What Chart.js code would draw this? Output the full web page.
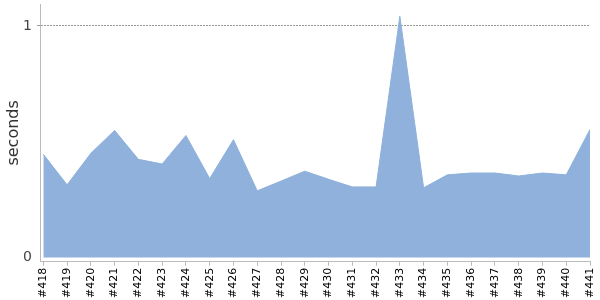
<!DOCTYPE html>
<html>
<head>
<meta charset="utf-8">
<script src="https://cdn.jsdelivr.net/npm/chart.js@4"></script>
<style>
html,body{margin:0;padding:0;background:#fff;}
#wrap{width:600px;height:300px;position:relative;}
</style>
</head>
<body>
<div id="wrap"><canvas id="c"></canvas></div>
<script>
const builds = ["#418","#419","#420","#421","#422","#423","#424","#425","#426","#427","#428","#429","#430","#431","#432","#433","#434","#435","#436","#437","#438","#439","#440","#441"];
const durations = [0.446,0.314,0.450,0.549,0.424,0.404,0.527,0.341,0.509,0.288,0.330,0.373,0.338,0.305,0.305,1.042,0.301,0.357,0.365,0.365,0.352,0.365,0.357,0.553];
const yTicks = [0, 1];
const yTitle = "seconds";

const points = durations.map((v, i) => ({ x: i, y: v }));

new Chart(document.getElementById('c'), {
  type: 'line',
  data: {
    datasets: [{
      data: points,
      fill: 'origin',
      backgroundColor: '#8fb1db',
      borderColor: '#8fb1db',
      borderWidth: 1,
      pointRadius: 0,
      tension: 0
    }]
  },
  options: {
    responsive: true,
    maintainAspectRatio: false,
    animation: false,
    layout: { padding: { top: 4, right: 10, left: 0, bottom: 0 } },
    plugins: { legend: { display: false }, tooltip: { enabled: false } },
    scales: {
      x: {
        type: 'linear',
        min: -0.14,
        max: builds.length - 1,
        afterBuildTicks: (axis) => { axis.ticks = builds.map((b, i) => ({ value: i })); },
        afterFit: (axis) => { axis.paddingLeft = 0; axis.paddingRight = 0; },
        grid: { drawOnChartArea: false, drawTicks: true, tickLength: 4, color: '#bbb' },
        border: { display: true, color: '#bbb' },
        ticks: {
          autoSkip: false, maxRotation: 90, minRotation: 90,
          callback: (v) => builds[v],
          color: '#000', font: { family: 'DejaVu Sans', size: 11 }, padding: 2
        }
      },
      y: {
        min: -0.0185,
        max: 1.095,
        afterBuildTicks: (axis) => { axis.ticks = yTicks.map(v => ({ value: v })); },
        afterFit: (axis) => { axis.paddingTop = 0; axis.paddingBottom = 0; axis.width = 40; },
        grid: {
          drawTicks: true, tickLength: 3,
          color: (ctx) => ctx.tick && ctx.tick.value === 1 ? '#999' : 'rgba(0,0,0,0)'
        },
        border: { display: true, color: '#bbb', dash: [2, 1] },
        ticks: { color: '#444', font: { family: 'DejaVu Sans', size: 14 }, padding: 5 },
        title: { display: true, text: yTitle, color: '#333', font: { family: 'DejaVu Sans', size: 16 }, padding: { top: 4, bottom: 0 } }
      }
    }
  }
});
</script>
</body>
</html>
